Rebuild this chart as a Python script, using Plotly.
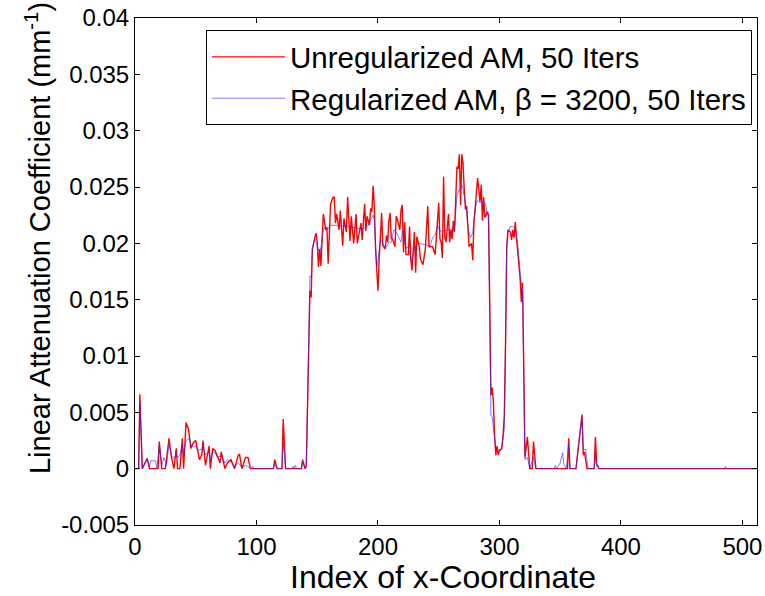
import plotly.graph_objects as go

# ---------------- data ----------------
red_x = [0, 3, 4, 6, 10, 12, 19, 20, 22, 25, 28, 30, 32, 34, 35, 37, 39, 40, 42, 44, 46, 48, 50, 52, 53, 55, 56, 58,
         61, 62, 64, 66, 68, 70, 71, 74, 76, 79, 82, 85, 86, 88, 91, 93, 95, 114, 115, 117, 121, 122, 124, 137, 138, 140,
         141, 144, 145, 146, 148, 149, 150, 151, 152, 153, 155, 157, 158, 159, 161, 163, 164, 165, 166, 168, 169, 171,
         172, 174, 175, 177, 178, 180, 182, 183, 186, 187, 189, 190, 191, 193, 194, 195, 196, 197, 198, 200, 201, 202,
         203, 204, 206, 207, 208, 209, 210, 211, 212, 214, 215, 216, 218, 219, 220, 221, 222, 223, 225, 226, 227, 228,
         230, 231, 232, 234, 235, 237, 239, 241, 242, 245, 247, 248, 249, 250, 251, 252, 253, 254, 255, 256, 258, 259,
         260, 261, 262, 263, 265, 266, 267, 268, 269, 270, 271, 272, 273, 274, 275, 277, 278, 279, 281, 282, 283, 284,
         285, 286, 287, 288, 289, 290, 291, 292, 293, 294, 295, 296, 297, 298, 299, 300, 302, 303, 304, 305, 306, 307,
         309, 310, 311, 312, 313, 314, 315, 316, 317, 318, 319, 320, 321, 323, 325, 327, 328, 330, 356, 357, 358, 363,
         366, 368, 369, 370, 372, 378, 379, 380, 381, 382, 512]
red_y = [0, 0, 0.0066, 0, 0.0009, 0, 0, 0.0024, 0, 0, 0.0027, 0.001, 0, 0.0018, 0, 0, 0.0027, 0, 0.0041, 0.0035,
         0.0018, 0.0023, 0.0025, 0.0015, 0.0008, 0.0012, 0.0025, 0.0003, 0.002, 0, 0.0018, 0.0016, 0.001, 0.0005,
         0.0015, 0, 0.0005, 0.0008, 0, 0.0012, 0.0013, 0, 0.001, 0.001, 0, 0, 0.0008, 0, 0, 0.0044, 0, 0, 0.0008, 0,
         0.0002, 0.0158, 0.0152, 0.0195, 0.0205, 0.0209, 0.0201, 0.0179, 0.0195, 0.0180, 0.0226, 0.0212, 0.0214,
         0.0182, 0.0235, 0.0241, 0.0241, 0.0218, 0.0226, 0.0212, 0.0229, 0.0198, 0.0222, 0.0210, 0.0241, 0.0202,
         0.0224, 0.0200, 0.0226, 0.0200, 0.0218, 0.0203, 0.0235, 0.0211, 0.0224, 0.0216, 0.0231, 0.0228, 0.0251,
         0.0233, 0.0195, 0.0158, 0.0186, 0.0204, 0.0227, 0.0198, 0.0195, 0.0207, 0.0201, 0.0220, 0.0227, 0.0204,
         0.0204, 0.0197, 0.0224, 0.0221, 0.0212, 0.0230, 0.0234, 0.0192, 0.0219, 0.0190, 0.0190, 0.0215, 0.0186,
         0.0176, 0.0210, 0.0174, 0.0206, 0.0197, 0.0186, 0.0181, 0.0195, 0.0233, 0.0197, 0.0197, 0.0190, 0.0204,
         0.0219, 0.0236, 0.0204, 0.0201, 0.0187, 0.0259, 0.0206, 0.0201, 0.0226, 0.0201, 0.0212, 0.0204, 0.0220,
         0.0210, 0.0268, 0.0266, 0.0279, 0.0234, 0.0279, 0.0271, 0.0248, 0.0230, 0.0233, 0.0218, 0.0197, 0.0200,
         0.0185, 0.0218, 0.0248, 0.0258, 0.0248, 0.0237, 0.0252, 0.0220, 0.0241, 0.0223, 0.0225, 0.0228, 0.0225,
         0.0120, 0.0065, 0.0072, 0.0059, 0.0030, 0.0012, 0.0020, 0.0012, 0.0016, 0.0018, 0.0030, 0.0047, 0.0110,
         0.0195, 0.0212, 0.0210, 0.0203, 0.0212, 0.0205, 0.0219, 0.0205, 0.0192, 0.0185, 0.0169, 0.0148, 0.0165,
         0.0090, 0.0010, 0.0028, 0, 0, 0.0024, 0, 0, 0.0027, 0, 0, 0.0030, 0.0048, 0.0012, 0.0015, 0, 0, 0.0028,
         0.0004, 0.0002, 0, 0]

blue_x = [0, 3, 4, 6, 10, 12, 13, 17, 18, 20, 22, 24, 26, 28, 30, 32, 34, 35, 37, 39, 40, 42, 45, 46, 48, 50, 52, 53,
          55, 56, 58, 61, 62, 64, 66, 68, 70, 71, 74, 76, 79, 82, 85, 86, 88, 91, 93, 95, 97, 98, 114, 115, 117, 121,
          122, 124, 129, 130, 131, 132, 133, 137, 138, 140, 141, 144, 145, 146, 148, 149, 150, 151, 152, 153, 155, 157,
          159, 161, 163, 166, 169, 172, 175, 178, 181, 184, 187, 190, 192, 194, 196, 197, 198, 199, 200, 201, 202, 204,
          206, 208, 209, 211, 213, 215, 217, 219, 220, 221, 223, 225, 226, 228, 229, 231, 233, 235, 237, 239, 241, 243,
          245, 247, 249, 251, 253, 255, 257, 259, 261, 263, 265, 267, 268, 269, 270, 272, 273, 274, 276, 278, 279, 281,
          282, 284, 285, 287, 288, 289, 290, 291, 292, 293, 294, 295, 296, 297, 299, 301, 302, 303, 304, 305, 306, 307,
          309, 311, 313, 315, 316, 317, 318, 319, 320, 321, 323, 325, 328, 330, 345, 346, 347, 350, 352, 353, 355, 357,
          358, 363, 366, 368, 369, 371, 373, 378, 379, 380, 381, 382, 485, 486, 487, 512]
blue_y = [0, 0, 0.0060, 0, 0.0009, 0.0002, 0.0007, 0.0007, 0, 0.0021, 0.0003, 0.0010, 0.0003, 0.0022, 0.0012, 0.0009,
          0.0013, 0.0010, 0.0012, 0.0022, 0.0012, 0.0025, 0.0027, 0.0021, 0.0019, 0.0020, 0.0016, 0.0017, 0.0017,
          0.0020, 0.0012, 0.0016, 0.0008, 0.0015, 0.0014, 0.0010, 0.0011, 0.0012, 0.0005, 0.0008, 0.0006, 0.0002,
          0.0005, 0.0004, 0.0001, 0.0003, 0.0002, 0, 0.0002, 0, 0, 0.0004, 0, 0, 0.0024, 0, 0, 0.0002, 0, 0.0003, 0,
          0, 0.0006, 0, 0.0002, 0.0171, 0.0170, 0.0195, 0.0204, 0.0202, 0.0198, 0.0195, 0.0192, 0.0196, 0.0212,
          0.0215, 0.0213, 0.0216, 0.0216, 0.0216, 0.0216, 0.0215, 0.0215, 0.0214, 0.0214, 0.0213, 0.0213, 0.0214,
          0.0216, 0.0221, 0.0225, 0.0220, 0.0195, 0.0179, 0.0185, 0.0196, 0.0203, 0.0200, 0.0196, 0.0198, 0.0201,
          0.0201, 0.0212, 0.0210, 0.0205, 0.0201, 0.0211, 0.0207, 0.0197, 0.0196, 0.0192, 0.0184, 0.0190, 0.0197,
          0.0200, 0.0200, 0.0199, 0.0199, 0.0198, 0.0198, 0.0205, 0.0207, 0.0216, 0.0211, 0.0211, 0.0211, 0.0212,
          0.0212, 0.0212, 0.0212, 0.0242, 0.0248, 0.0249, 0.0252, 0.0248, 0.0236, 0.0230, 0.0215, 0.0205, 0.0209,
          0.0221, 0.0236, 0.0238, 0.0236, 0.0237, 0.0236, 0.0236, 0.0232, 0.0225, 0.0225, 0.0100, 0.0047, 0.0046,
          0.0035, 0.0022, 0.0017, 0.0017, 0.0016, 0.0020, 0.0030, 0.0035, 0.0110, 0.0200, 0.0210, 0.0215, 0.0215,
          0.0213, 0.0200, 0.0185, 0.0175, 0.0165, 0.0160, 0.0080, 0.0008, 0.0010, 0, 0.0010, 0, 0, 0.0003, 0, 0.0005,
          0.0014, 0.0004, 0, 0.0022, 0, 0, 0.0030, 0.0045, 0.0017, 0.0017, 0, 0, 0.0012, 0.0002, 0.0003, 0, 0,
          0.0002, 0, 0]

y_ticks = [-0.005, 0, 0.005, 0.01, 0.015, 0.02, 0.025, 0.03, 0.035, 0.04]
y_ticktext = ["-0.005", "0", "0.005", "0.01", "0.015", "0.02", "0.025", "0.03", "0.035", "0.04"]
x_ticks = [0, 100, 200, 300, 400, 500]

name_red = "Unregularized AM, 50 Iters"
name_blue = "Regularized AM, β = 3200, 50 Iters"
x_title = "Index of x-Coordinate"
y_title = "Linear Attenuation Coefficient (mm<sup>-1</sup>)"

FONT = "Arial, Liberation Sans, sans-serif"

fig = go.Figure()
fig.add_trace(go.Scatter(x=red_x, y=red_y, mode="lines", name=name_red,
                         line=dict(color="#ff0000", width=1.4)))
fig.add_trace(go.Scatter(x=blue_x, y=blue_y, mode="lines", name=name_blue,
                         line=dict(color="rgba(40,40,255,0.6)", width=1)))

axis_common = dict(showline=True, linecolor="black", linewidth=1, mirror="ticks",
                   ticks="inside", ticklen=5, tickcolor="black", showgrid=False,
                   zeroline=False, automargin=False,
                   tickfont=dict(family=FONT, size=24, color="black"))

fig.update_xaxes(range=[0, 512], tickvals=x_ticks, **axis_common)
fig.update_yaxes(range=[-0.005, 0.04], tickvals=y_ticks, ticktext=y_ticktext, **axis_common)

fig.add_annotation(text=y_title, xref="paper", yref="paper", x=-0.156, y=0.566,
                   xanchor="center", yanchor="middle", textangle=-90, showarrow=False,
                   font=dict(family=FONT, size=29, color="black"))
fig.add_annotation(text=x_title, xref="paper", yref="paper", x=0.495, y=-0.102,
                   xanchor="center", yanchor="middle", showarrow=False,
                   font=dict(family=FONT, size=32, color="black"))

fig.update_layout(
    width=765, height=596,
    margin=dict(l=135, r=8, t=18, b=71),
    paper_bgcolor="white", plot_bgcolor="white",
    showlegend=True,
    legend=dict(x=0.992, y=0.976, xanchor="right", yanchor="top",
                bgcolor="white", bordercolor="black", borderwidth=1,
                font=dict(family=FONT, size=29.5, color="black"),
                itemwidth=73, tracegroupgap=0),
)

# remove the browser's default 8px body margin so the figure sits at the page origin
fig.write_html("out.html", config={"displayModeBar": False},
               post_script="document.body.style.margin='0';")
